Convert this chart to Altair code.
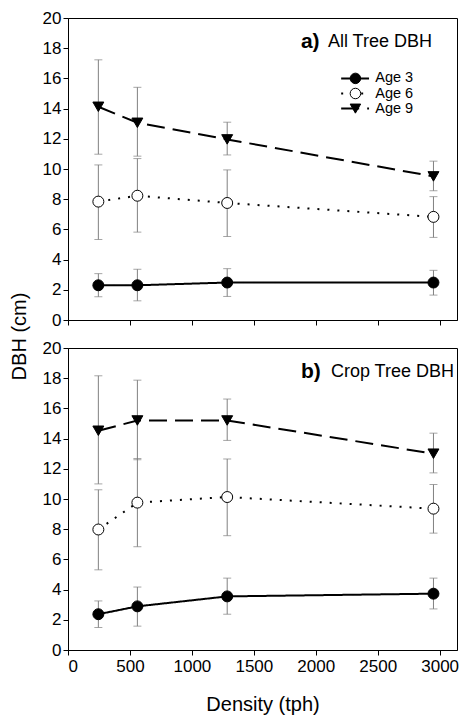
import altair as alt
import pandas as pd

# ---------------- data ----------------
density = [245, 560, 1285, 2950]
ages = ["Age 3", "Age 6", "Age 9"]

a_mean = {"Age 3": [2.30, 2.30, 2.48, 2.48],
          "Age 6": [7.84, 8.23, 7.75, 6.83],
          "Age 9": [14.12, 13.06, 11.96, 9.51]}
a_lo = {"Age 3": [1.54, 1.27, 1.56, 1.65],
        "Age 6": [5.33, 5.82, 5.53, 5.47],
        "Age 9": [10.98, 10.85, 10.93, 8.56]}
a_hi = {"Age 3": [3.07, 3.36, 3.40, 3.29],
        "Age 6": [10.27, 10.69, 9.94, 8.17],
        "Age 9": [17.23, 15.41, 13.10, 10.52]}

b_mean = {"Age 3": [2.37, 2.89, 3.55, 3.73],
          "Age 6": [7.98, 9.76, 10.13, 9.36],
          "Age 9": [14.52, 15.20, 15.20, 13.00]}
b_lo = {"Age 3": [1.49, 1.58, 2.37, 2.72],
        "Age 6": [5.31, 6.84, 7.57, 7.74],
        "Age 9": [11.00, 12.60, 13.88, 11.73]}
b_hi = {"Age 3": [3.25, 4.17, 4.76, 4.76],
        "Age 6": [10.61, 12.68, 12.65, 10.96],
        "Age 9": [18.16, 17.87, 16.62, 14.36]}

x_ticks = [0, 500, 1000, 1500, 2000, 2500, 3000]
y_ticks = [0, 2, 4, 6, 8, 10, 12, 14, 16, 18, 20]


def build(mean, lo, hi):
    rows = []
    for age in ages:
        for i, d in enumerate(density):
            rows.append({"age": age, "density": d, "mean": mean[age][i],
                         "lo": lo[age][i], "hi": hi[age][i]})
    return pd.DataFrame(rows)


df_a = build(a_mean, a_lo, a_hi)
df_b = build(b_mean, b_lo, b_hi)

FONT = "Liberation Sans"
W, H = 389, 302

dash_scale = alt.Scale(domain=ages, range=[[1, 0], [2, 8], [18, 8]])
shape_scale = alt.Scale(domain=ages, range=["circle", "circle", "triangle-down"])
fill_scale = alt.Scale(domain=ages, range=["black", "white", "black"])


def panel(df, bold, label, dx, top, bottom, legend):
    xscale = alt.Scale(domain=[0, 3140], nice=False, zero=False)
    yscale = alt.Scale(domain=[0, 20], nice=False)
    if bottom:
        xaxis = alt.Axis(values=x_ticks, format="d", title="Density (tph)",
                         titlePadding=20, labelPadding=3, labelOverlap=False)
    else:
        xaxis = alt.Axis(values=x_ticks, labels=False, title=None)
    if top:
        yaxis = alt.Axis(values=y_ticks, tickCount=11, title="DBH (cm)", titleX=-39,
                         titleY=H + 16, labelOverlap=False)
    else:
        yaxis = alt.Axis(values=y_ticks, tickCount=11, title=None, labelOverlap=False)

    def Xf(field):
        return alt.X(field, scale=xscale, axis=xaxis)

    def Yf(field):
        return alt.Y(field, scale=yscale, axis=yaxis)

    base = alt.Chart(df)
    err = base.mark_rule(color="#808080", strokeWidth=1).encode(
        x=Xf("density:Q"), y=Yf("lo:Q"), y2="hi:Q")
    caps = base.transform_fold(["lo", "hi"], as_=["k", "v"]).mark_tick(
        color="#808080", orient="horizontal", size=8, thickness=1).encode(
        x=Xf("density:Q"), y=Yf("v:Q"))
    lines = base.mark_line(color="black", strokeWidth=2).encode(
        x=Xf("density:Q"), y=Yf("mean:Q"),
        strokeDash=alt.StrokeDash("age:N", scale=dash_scale, legend=None),
        detail="age:N")
    pts = base.mark_point(size=120, opacity=1, stroke="black", strokeWidth=1).encode(
        x=Xf("density:Q"), y=Yf("mean:Q"),
        shape=alt.Shape("age:N", scale=shape_scale, legend=None),
        fill=alt.Fill("age:N", scale=fill_scale, legend=None))
    t1 = alt.Chart().mark_text(align="left", baseline="middle", font=FONT,
                               fontSize=21, fontWeight="bold", color="black").encode(
        x=alt.X(datum=1880, scale=xscale, axis=xaxis),
        y=alt.Y(datum=18.4, scale=yscale, axis=yaxis), text=alt.value(bold))
    t2 = alt.Chart().mark_text(align="left", baseline="middle", font=FONT,
                               fontSize=18, color="black", dx=dx).encode(
        x=alt.X(datum=1880, scale=xscale, axis=xaxis),
        y=alt.Y(datum=18.4, scale=yscale, axis=yaxis), text=alt.value(label))
    layers = [err, caps, lines, pts, t1, t2]
    if legend:
        leg = pd.DataFrame({"age": ages, "ly": [16, 15, 14]})
        lb = alt.Chart(leg)
        l1 = lb.mark_rule(color="black", strokeWidth=2).encode(
            x=alt.X(datum=2205, scale=xscale, axis=xaxis), x2=alt.datum(2430),
            y=Yf("ly:Q"),
            strokeDash=alt.StrokeDash("age:N", scale=dash_scale, legend=None))
        l2 = lb.mark_point(size=110, opacity=1, stroke="black", strokeWidth=1).encode(
            x=alt.X(datum=2320, scale=xscale, axis=xaxis), y=Yf("ly:Q"),
            shape=alt.Shape("age:N", scale=shape_scale, legend=None),
            fill=alt.Fill("age:N", scale=fill_scale, legend=None))
        l3 = lb.mark_text(align="left", baseline="middle", font=FONT, fontSize=14.5,
                          color="black").encode(
            x=alt.X(datum=2480, scale=xscale, axis=xaxis), y=Yf("ly:Q"), text="age:N")
        layers += [l1, l2, l3]
    return alt.layer(*layers).properties(width=W, height=H)


pa = panel(df_a, "a)", "All Tree DBH", 27, True, False, True)
pb = panel(df_b, "b)", "Crop Tree DBH", 30, False, True, False)

chart = alt.vconcat(pa, pb, spacing=28, bounds="flush").properties(
    padding={"left": 0, "top": 0, "right": 0, "bottom": 0}
).configure_axis(
    grid=False, domainColor="black", tickColor="black", labelColor="black",
    titleColor="black", labelFont=FONT, titleFont=FONT, labelFontSize=17,
    titleFontSize=20, titleFontWeight="normal", tickSize=5, domainWidth=1,
    tickWidth=1, labelOverlap=False
).configure_view(stroke="black", strokeWidth=1)

chart.save("out.html", embed_options={"renderer": "svg", "actions": False})
